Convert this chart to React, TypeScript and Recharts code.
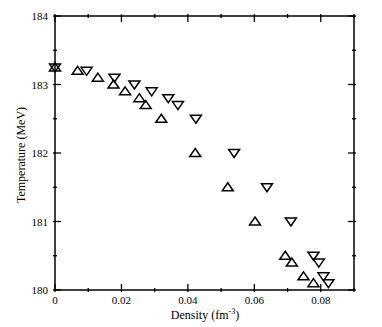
import { ScatterChart, Scatter, XAxis, YAxis } from "recharts";

const upX = [0, 0.0068, 0.0129, 0.0176, 0.0211, 0.0254, 0.0273, 0.032, 0.0422, 0.052, 0.0602, 0.0693, 0.0713, 0.0748, 0.0778];
const upY = [183.25, 183.2, 183.1, 183.0, 182.9, 182.8, 182.7, 182.5, 182.0, 181.5, 181.0, 180.5, 180.4, 180.2, 180.1];
const downX = [0, 0.0095, 0.0179, 0.0239, 0.0291, 0.0341, 0.037, 0.0424, 0.0539, 0.0638, 0.071, 0.0778, 0.0794, 0.0808, 0.0823];
const downY = [183.25, 183.2, 183.1, 183.0, 182.9, 182.8, 182.7, 182.5, 182.0, 181.5, 181.0, 180.5, 180.4, 180.2, 180.1];

const xTicks = [0, 0.01, 0.02, 0.03, 0.04, 0.05, 0.06, 0.07, 0.08, 0.09];
const xLabels = ["0", "", "0.02", "", "0.04", "", "0.06", "", "0.08", ""];
const yTicks = [180, 180.5, 181, 181.5, 182, 182.5, 183, 183.5, 184];
const yLabels = ["180", "", "181", "", "182", "", "183", "", "184"];

const upData = upX.map((x, i) => ({ x, y: upY[i] }));
const downData = downX.map((x, i) => ({ x, y: downY[i] }));

const FONT = "'Liberation Serif', 'Times New Roman', serif";

const UpTri = (p: any) => (
  <path
    d={`M${p.cx},${p.cy - 4.5} L${p.cx + 5.5},${p.cy + 3.5} L${p.cx - 5.5},${p.cy + 3.5} Z`}
    fill="none"
    stroke="#000"
    strokeWidth={1.5}
  />
);
const DownTri = (p: any) => (
  <path
    d={`M${p.cx},${p.cy + 4.5} L${p.cx + 5.5},${p.cy - 3.5} L${p.cx - 5.5},${p.cy - 3.5} Z`}
    fill="none"
    stroke="#000"
    strokeWidth={1.5}
  />
);

// inward tick marks; label only on major ticks
const BottomTick = (p: any) => {
  const major = xLabels[p.index] !== "";
  return (
    <g>
      <line x1={p.x} x2={p.x} y1={p.y} y2={p.y - (major ? 8 : 4)} stroke="#000" strokeWidth={1.3} />
      {major && (
        <text x={p.x} y={p.y + 12} textAnchor="middle" fontSize={11} fontFamily={FONT} fill="#000">
          {xLabels[p.index]}
        </text>
      )}
    </g>
  );
};
const TopTick = (p: any) => {
  const major = xLabels[p.index] !== "";
  return <line x1={p.x} x2={p.x} y1={p.y} y2={p.y + (major ? 8 : 4)} stroke="#000" strokeWidth={1.3} />;
};
const LeftTick = (p: any) => {
  const major = yLabels[p.index] !== "";
  return (
    <g>
      <line x1={p.x} x2={p.x + (major ? 8 : 4)} y1={p.y} y2={p.y} stroke="#000" strokeWidth={1.3} />
      {major && (
        <text x={p.x - 5} y={p.y + 4} textAnchor="end" fontSize={11} fontFamily={FONT} fill="#000">
          {yLabels[p.index]}
        </text>
      )}
    </g>
  );
};
const RightTick = (p: any) => {
  const major = yLabels[p.index] !== "";
  return <line x1={p.x} x2={p.x - (major ? 8 : 4)} y1={p.y} y2={p.y} stroke="#000" strokeWidth={1.3} />;
};

const App = () => {
  return (
    <div style={{ position: "absolute", left: 0, top: 0 }}>
      <ScatterChart width={382} height={327} margin={{ top: 0, right: 0, bottom: 0, left: 0 }}>
        <XAxis
          xAxisId="b"
          dataKey="x"
          type="number"
          domain={[0, 0.09]}
          ticks={xTicks}
          interval={0}
          tickSize={0}
          tickLine={false}
          tick={<BottomTick />}
          axisLine={{ stroke: "#000", strokeWidth: 1.5 }}
          height={37}
          label={{
            content: () => (
              <text x={205} y={319} textAnchor="middle" fontSize={12} fontFamily={FONT} fill="#000">
                <tspan>Density (fm</tspan>
                <tspan dy={-5} fontSize={8}>-3</tspan>
                <tspan dy={5}>)</tspan>
              </text>
            ),
          }}
        />
        <XAxis
          xAxisId="t"
          orientation="top"
          dataKey="x"
          type="number"
          domain={[0, 0.09]}
          allowDataOverflow
          ticks={xTicks}
          interval={0}
          tickSize={0}
          tickLine={false}
          tick={<TopTick />}
          axisLine={{ stroke: "#000", strokeWidth: 1.5 }}
          height={16}
        />
        <YAxis
          yAxisId="l"
          dataKey="y"
          type="number"
          domain={[180, 184]}
          ticks={yTicks}
          interval={0}
          tickSize={0}
          tickLine={false}
          tick={<LeftTick />}
          axisLine={{ stroke: "#000", strokeWidth: 1.5 }}
          width={55}
          label={{
            content: () => (
              <text
                x={22}
                y={155}
                transform="rotate(-90 22 155)"
                textAnchor="middle"
                dominantBaseline="middle"
                fontSize={12}
                fontFamily={FONT}
                fill="#000"
              >
                Temperature (MeV)
              </text>
            ),
          }}
        />
        <YAxis
          yAxisId="r"
          orientation="right"
          dataKey="y"
          type="number"
          domain={[180, 184]}
          allowDataOverflow
          ticks={yTicks}
          interval={0}
          tickSize={0}
          tickLine={false}
          tick={<RightTick />}
          axisLine={{ stroke: "#000", strokeWidth: 1.5 }}
          width={28}
        />
        <Scatter data={upData} xAxisId="b" yAxisId="l" shape={<UpTri />} isAnimationActive={false} />
        <Scatter data={downData} xAxisId="b" yAxisId="l" shape={<DownTri />} isAnimationActive={false} />
      </ScatterChart>
    </div>
  );
};

export default App;
